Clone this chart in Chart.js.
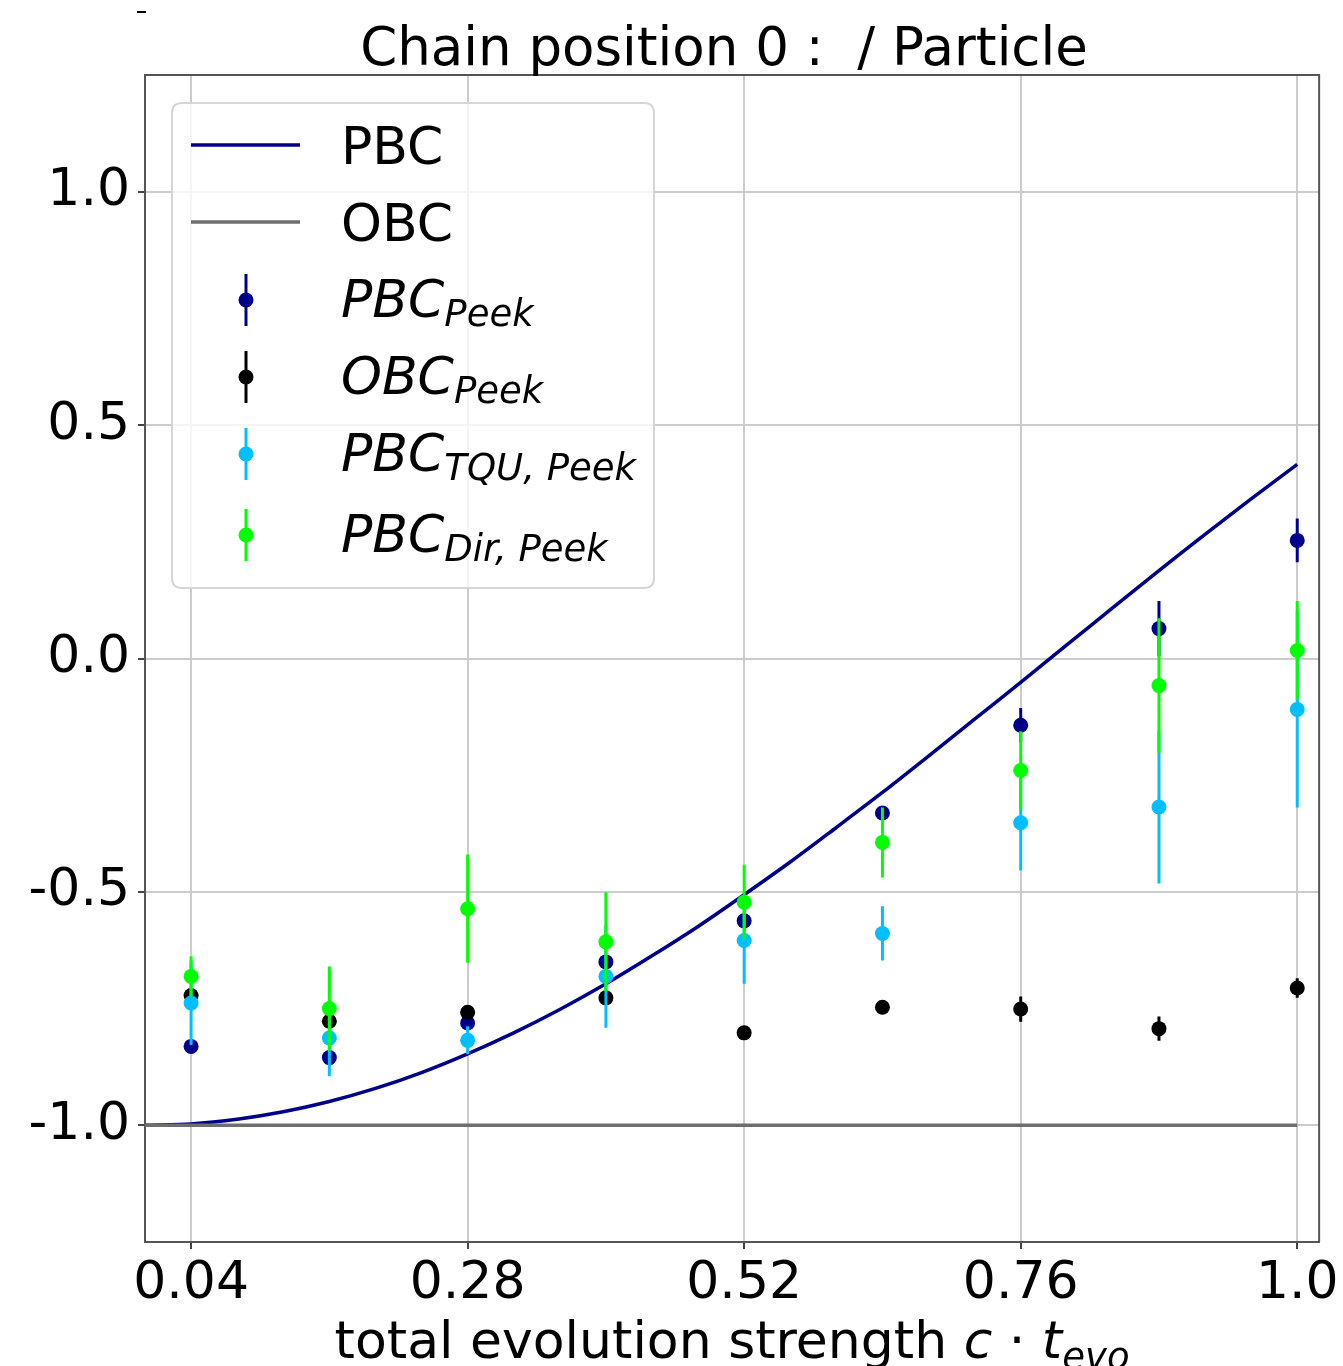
<!DOCTYPE html>
<html>
<head>
<meta charset="utf-8">
<script src="https://cdn.jsdelivr.net/npm/chart.js@4.4.1/dist/chart.umd.min.js"></script>
<style>
  html, body { margin: 0; padding: 0; background: #fff; overflow: hidden; }
  canvas { display: block; }
</style>
</head>
<body>
<canvas id="chart" width="1343" height="1366"></canvas>
<script>
// x positions of the peek measurements
var xPeek = [0.04, 0.16, 0.28, 0.40, 0.52, 0.64, 0.76, 0.88, 1.0];

var pbcPeek    = [-0.831, -0.855, -0.781, -0.650, -0.562, -0.331, -0.143, 0.064, 0.253];
var pbcPeekErr = [0.010, 0.010, 0.010, 0.015, 0.015, 0.010, 0.037, 0.059, 0.047];
var obcPeek    = [-0.722, -0.777, -0.758, -0.727, -0.802, -0.747, -0.751, -0.793, -0.706];
var obcPeekErr = [0.010, 0.010, 0.010, 0.012, 0.010, 0.012, 0.027, 0.026, 0.021];
var tquPeek    = [-0.738, -0.813, -0.818, -0.681, -0.604, -0.589, -0.352, -0.318, -0.109];
var tquPeekErr = [0.090, 0.082, 0.030, 0.110, 0.093, 0.058, 0.102, 0.164, 0.210];
var dirPeek    = [-0.681, -0.750, -0.536, -0.607, -0.522, -0.394, -0.240, -0.058, 0.017];
var dirPeekErr = [0.043, 0.090, 0.116, 0.106, 0.080, 0.075, 0.084, 0.144, 0.106];

// exact curves
var xCurve   = [0, 0.04, 0.08, 0.12, 0.16, 0.20, 0.24, 0.28, 0.32, 0.36, 0.40, 0.44, 0.48,
                0.52, 0.56, 0.60, 0.64, 0.68, 0.72, 0.76, 0.80, 0.84, 0.88, 0.92, 0.96, 1.0];
var pbcCurve = [-1.000, -0.997, -0.987, -0.971, -0.949, -0.921, -0.887, -0.847, -0.802, -0.752,
                -0.697, -0.637, -0.574, -0.506, -0.436, -0.362, -0.287, -0.209, -0.130, -0.051,
                0.029, 0.109, 0.188, 0.266, 0.342, 0.416];
var obcCurve = [-1, -1, -1, -1, -1, -1, -1, -1, -1, -1, -1, -1, -1,
                -1, -1, -1, -1, -1, -1, -1, -1, -1, -1, -1, -1, -1];

var xTicks = [0.04, 0.28, 0.52, 0.76, 1.0];
var xTickLabels = ['0.04', '0.28', '0.52', '0.76', '1.0'];
var yTicks = [-1.0, -0.5, 0.0, 0.5, 1.0];
var yTickLabels = ['-1.0', '-0.5', '0.0', '0.5', '1.0'];

var NAVY = '#00008b';
var GRAY = '#6e6e6e';
var CYAN = '#00bfff';
var LIME = '#00ff00';
var FONT = 'DejaVu Sans';

function pts(xs, ys) {
    return xs.map(function(x, i) { return {x: x, y: ys[i]}; });
}

function peekSet(label, xs, ys, errs, color, order) {
    return {
        type: 'scatter',
        label: label,
        data: pts(xs, ys),
        errors: errs,
        backgroundColor: color,
        borderColor: color,
        borderWidth: 0,
        pointRadius: 7.5,
        pointHoverRadius: 7.5,
        order: order
    };
}

// vertical error bars, drawn just under the markers of their own series
var errorBars = {
    id: 'errorBars',
    beforeDatasetDraw: function(chart, args) {
        var ds = chart.data.datasets[args.index];
        if (!ds.errors) return;
        var ctx = chart.ctx, x = chart.scales.x, y = chart.scales.y, a = chart.chartArea;
        ctx.save();
        ctx.beginPath();
        ctx.rect(a.left, a.top, a.right - a.left, a.bottom - a.top);
        ctx.clip();
        ctx.strokeStyle = ds.backgroundColor;
        ctx.lineWidth = 3;
        ds.data.forEach(function(p, i) {
            var px = x.getPixelForValue(p.x);
            ctx.beginPath();
            ctx.moveTo(px, y.getPixelForValue(p.y - ds.errors[i]));
            ctx.lineTo(px, y.getPixelForValue(p.y + ds.errors[i]));
            ctx.stroke();
        });
        ctx.restore();
    }
};

function textWithSub(ctx, x, y, main, sub, size, subSize, italic) {
    var st = italic ? 'italic ' : '';
    ctx.font = st + size + 'px ' + FONT;
    ctx.fillText(main, x, y);
    var w = ctx.measureText(main).width;
    ctx.font = st + subSize + 'px ' + FONT;
    ctx.fillText(sub, x + w, y + 9);
    return w + ctx.measureText(sub).width;
}

function roundRect(ctx, x, y, w, h, r) {
    ctx.beginPath();
    ctx.moveTo(x + r, y);
    ctx.lineTo(x + w - r, y);
    ctx.quadraticCurveTo(x + w, y, x + w, y + r);
    ctx.lineTo(x + w, y + h - r);
    ctx.quadraticCurveTo(x + w, y + h, x + w - r, y + h);
    ctx.lineTo(x + r, y + h);
    ctx.quadraticCurveTo(x, y + h, x, y + h - r);
    ctx.lineTo(x, y + r);
    ctx.quadraticCurveTo(x, y, x + r, y);
    ctx.closePath();
}

var legendItems = [
    {kind: 'line', color: NAVY, y: 145, main: 'PBC'},
    {kind: 'line', color: GRAY, y: 222, main: 'OBC'},
    {kind: 'err', color: NAVY, y: 300, main: 'PBC', sub: 'Peek'},
    {kind: 'err', color: '#000', y: 377, main: 'OBC', sub: 'Peek'},
    {kind: 'err', color: CYAN, y: 454, main: 'PBC', sub: 'TQU, Peek'},
    {kind: 'err', color: LIME, y: 535, main: 'PBC', sub: 'Dir, Peek'}
];

var decorations = {
    id: 'decorations',
    afterDraw: function(chart) {
        var ctx = chart.ctx, a = chart.chartArea;
        ctx.save();

        // top and right spines
        ctx.strokeStyle = '#555';
        ctx.lineWidth = 2;
        ctx.beginPath();
        ctx.moveTo(a.left, a.top);
        ctx.lineTo(a.right, a.top);
        ctx.lineTo(a.right, a.bottom);
        ctx.stroke();

        // small stray mark at the top left
        ctx.fillStyle = '#000';
        ctx.fillRect(137, 11, 9, 2);

        // title
        ctx.textAlign = 'center';
        ctx.textBaseline = 'alphabetic';
        ctx.font = '53px ' + FONT;
        ctx.fillText('Chain position 0 :  / Particle', 724, 65);

        // x axis label with subscript
        ctx.textAlign = 'left';
        var base = 1358;
        var parts = [
            {t: 'total evolution strength ', f: '52px ' + FONT, dy: 0},
            {t: 'c', f: 'italic 52px ' + FONT, dy: 0},
            {t: ' \u00b7 ', f: '52px ' + FONT, dy: 0},
            {t: 't', f: 'italic 52px ' + FONT, dy: 0},
            {t: 'evo', f: 'italic 37px ' + FONT, dy: 11}
        ];
        var total = 0;
        parts.forEach(function(p) { ctx.font = p.f; p.w = ctx.measureText(p.t).width; total += p.w; });
        var xx = (a.left + a.right) / 2 - total / 2;
        parts.forEach(function(p) { ctx.font = p.f; ctx.fillText(p.t, xx, base + p.dy); xx += p.w; });

        // legend
        roundRect(ctx, 172, 103, 482, 485, 10);
        ctx.fillStyle = 'rgba(255,255,255,0.8)';
        ctx.fill();
        ctx.strokeStyle = '#d6d6d6';
        ctx.lineWidth = 2;
        ctx.stroke();

        legendItems.forEach(function(it) {
            if (it.kind === 'line') {
                ctx.strokeStyle = it.color;
                ctx.lineWidth = 3.5;
                ctx.beginPath();
                ctx.moveTo(191, it.y);
                ctx.lineTo(300, it.y);
                ctx.stroke();
                ctx.fillStyle = '#000';
                ctx.font = '52px ' + FONT;
                ctx.fillText(it.main, 341, it.y + 19);
            } else {
                ctx.strokeStyle = it.color;
                ctx.lineWidth = 3;
                ctx.beginPath();
                ctx.moveTo(246, it.y - 26);
                ctx.lineTo(246, it.y + 26);
                ctx.stroke();
                ctx.fillStyle = it.color;
                ctx.beginPath();
                ctx.arc(246, it.y, 7.5, 0, Math.PI * 2);
                ctx.fill();
                ctx.fillStyle = '#000';
                textWithSub(ctx, 341, it.y + 17, it.main, it.sub, 52, 37, true);
            }
        });

        ctx.restore();
    }
};

var ctx = document.getElementById('chart').getContext('2d');

new Chart(ctx, {
    type: 'scatter',
    data: {
        datasets: [
            {
                type: 'line',
                label: 'PBC',
                data: pts(xCurve, pbcCurve),
                borderColor: NAVY,
                borderWidth: 3.5,
                pointRadius: 0,
                fill: false,
                tension: 0.3,
                order: 6
            },
            {
                type: 'line',
                label: 'OBC',
                data: pts(xCurve, obcCurve),
                borderColor: GRAY,
                borderWidth: 3.5,
                pointRadius: 0,
                fill: false,
                order: 5
            },
            peekSet('PBC Peek', xPeek, pbcPeek, pbcPeekErr, NAVY, 4),
            peekSet('OBC Peek', xPeek, obcPeek, obcPeekErr, '#000000', 3),
            peekSet('PBC TQU, Peek', xPeek, tquPeek, tquPeekErr, CYAN, 2),
            peekSet('PBC Dir, Peek', xPeek, dirPeek, dirPeekErr, LIME, 1)
        ]
    },
    options: {
        responsive: false,
        animation: false,
        devicePixelRatio: 1,
        layout: { padding: { top: 75, right: 22, left: 0, bottom: 0 } },
        plugins: {
            legend: { display: false },
            tooltip: { enabled: false }
        },
        scales: {
            x: {
                type: 'linear',
                min: 0,
                max: 1.019,
                afterBuildTicks: function(s) { s.ticks = xTicks.map(function(v) { return {value: v}; }); },
                afterFit: function(s) { s.height = 124; },
                ticks: {
                    autoSkip: false,
                    maxRotation: 0,
                    padding: 4,
                    color: '#000',
                    font: { family: FONT, size: 52 },
                    callback: function(v, i) { return xTickLabels[i]; }
                },
                grid: { color: '#cccccc', lineWidth: 2, tickLength: 7, tickColor: '#444', tickWidth: 2 },
                border: { color: '#555', width: 2 }
            },
            y: {
                type: 'linear',
                min: -1.25,
                max: 1.25,
                afterBuildTicks: function(s) { s.ticks = yTicks.map(function(v) { return {value: v}; }); },
                afterFit: function(s) { s.width = 145; },
                ticks: {
                    autoSkip: false,
                    padding: 8,
                    color: '#000',
                    font: { family: FONT, size: 52 },
                    callback: function(v, i) { return yTickLabels[i]; }
                },
                grid: { color: '#cccccc', lineWidth: 2, tickLength: 7, tickColor: '#444', tickWidth: 2 },
                border: { color: '#555', width: 2 }
            }
        }
    },
    plugins: [errorBars, decorations]
});
</script>
</body>
</html>
